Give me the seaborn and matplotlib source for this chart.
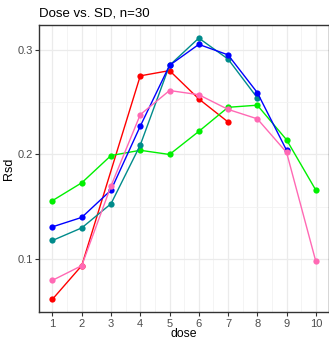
import numpy as np
import pandas as pd
import matplotlib
matplotlib.use("Agg")
import matplotlib.pyplot as plt
from matplotlib.ticker import MultipleLocator
import seaborn as sns

sns.set_theme(style="white")
plt.rcParams["font.family"] = ["Liberation Sans", "DejaVu Sans"]

# Rsd per dose for each series
dose = list(range(1, 11))
rsd_red = [0.062, 0.094, np.nan, 0.275, 0.280, 0.253, 0.231, np.nan, np.nan, np.nan]
rsd_green = [0.156, 0.173, 0.199, 0.204, 0.200, 0.222, 0.245, 0.247, 0.214, 0.166]
rsd_teal = [0.118, 0.130, 0.153, 0.209, 0.285, 0.311, 0.291, 0.254, np.nan, np.nan]
rsd_blue = [0.131, 0.140, 0.166, 0.227, 0.285, 0.305, 0.295, 0.259, 0.204, np.nan]
rsd_pink = [0.080, 0.094, 0.170, 0.238, 0.261, 0.257, 0.243, 0.234, 0.202, 0.098]

series = {"red": rsd_red, "green": rsd_green, "teal": rsd_teal,
          "blue": rsd_blue, "pink": rsd_pink}
palette = {"red": "#FF0000", "green": "#00F000", "teal": "#008B8B",
           "blue": "#0000FF", "pink": "#FF69B4"}

# red's dose 3 point is missing but the line passes straight through
frames = []
for name, vals in series.items():
    frames.append(pd.DataFrame({"dose": dose, "Rsd": vals, "series": name}))
df = pd.concat(frames).dropna()

fig = plt.figure(figsize=(3.29, 3.40), dpi=100)
ax = fig.add_axes([0.1195, 0.0815, 0.8805, 0.845])

sns.lineplot(data=df, x="dose", y="Rsd", hue="series", palette=palette,
             marker="o", markersize=4.5, markeredgewidth=0, linewidth=1,
             legend=False, ax=ax, zorder=3)

ax.set_xlim(0.55, 10.45)
ax.set_ylim(0.0495, 0.3235)
ax.set_xticks(dose)
ax.set_yticks([0.1, 0.2, 0.3])
ax.xaxis.set_minor_locator(MultipleLocator(1, offset=0.5))
ax.yaxis.set_minor_locator(MultipleLocator(0.1, offset=0.05))
ax.grid(which="major", color="#EBEBEB", linewidth=0.9)
ax.grid(which="minor", color="#F2F2F2", linewidth=0.6)
ax.set_axisbelow(True)

for s in ax.spines.values():
    s.set_color("#333333")
    s.set_linewidth(1.0)

ax.tick_params(axis="both", which="major", length=3, width=0.8, color="#333333",
               labelsize=8, labelcolor="#4D4D4D", pad=1.5, bottom=True, left=True)
ax.tick_params(which="minor", length=0)

ax.set_xlabel("dose", fontsize=8.8, color="black", labelpad=-0.5)
ax.set_ylabel("Rsd", fontsize=9, color="black", labelpad=2)
ax.set_title("Dose vs. SD, n=30", fontsize=9.5, loc="left", pad=6, color="black")

fig.savefig("out.png", dpi=100)
